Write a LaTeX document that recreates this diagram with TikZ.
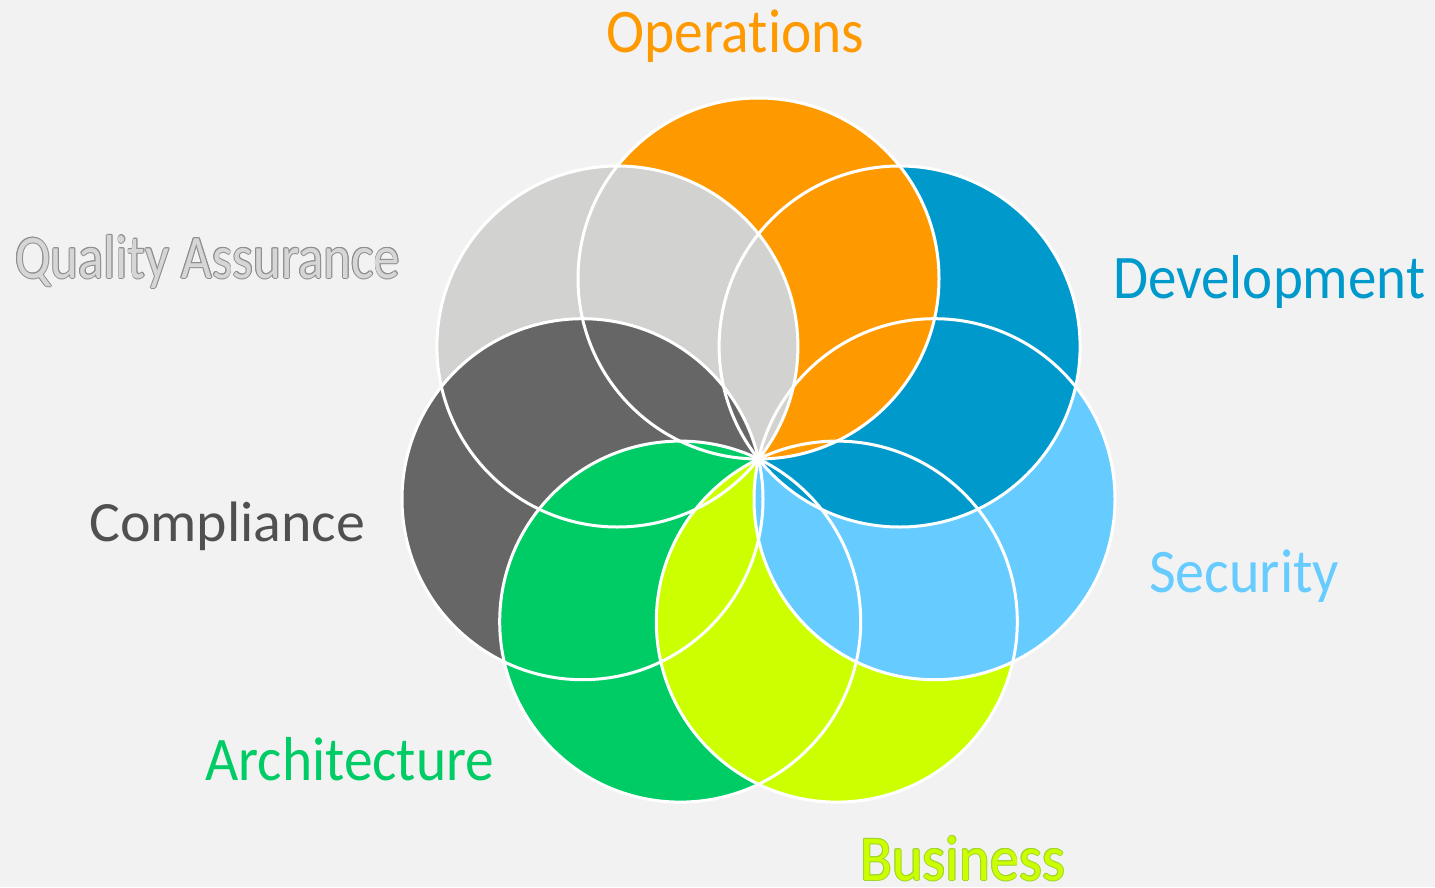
\documentclass[tikz,border=0pt]{standalone}
\usepackage{fontspec}
\setmainfont{Carlito}[Ligatures=NoCommon]
\usepackage{graphicx}

\definecolor{bgcol}{HTML}{F2F2F2}
\definecolor{opscol}{HTML}{FF9900}
\definecolor{devcol}{HTML}{0099CC}
\definecolor{seccol}{HTML}{66CCFF}
\definecolor{buscol}{HTML}{CCFF00}
\definecolor{busline}{HTML}{9ED62A}
\definecolor{arccol}{HTML}{00CC66}
\definecolor{comcol}{HTML}{666666}
\definecolor{comtext}{HTML}{505050}
\definecolor{qacol}{HTML}{D2D2D0}
\definecolor{qatext}{HTML}{D6D6D6}
\definecolor{qaline}{HTML}{8E8E8E}

% stretch a label to a given width, keep its height
\newcommand{\fitlabel}[2]{\resizebox{#1}{\height}{#2}}
% text with a coloured rim
\newcommand{\ringtext}[3]{%
  \makebox[0pt][l]{\color{#1}\kern-1pt#3}%
  \makebox[0pt][l]{\color{#1}\kern1pt#3}%
  \makebox[0pt][l]{\color{#1}\raisebox{1pt}{#3}}%
  \makebox[0pt][l]{\color{#1}\raisebox{-1pt}{#3}}%
  \makebox[0pt][l]{\color{#1}\kern-.7pt\raisebox{.7pt}{#3}}%
  \makebox[0pt][l]{\color{#1}\kern.7pt\raisebox{.7pt}{#3}}%
  \makebox[0pt][l]{\color{#1}\kern-.7pt\raisebox{-.7pt}{#3}}%
  \makebox[0pt][l]{\color{#1}\kern.7pt\raisebox{-.7pt}{#3}}%
  {\color{#2}#3}}

\begin{document}
\begin{tikzpicture}[x=1pt, y=-1pt,
		rim/.style={draw=white, line width=3pt},
		lbl/.style={inner sep=0pt, anchor=base west}]
		\fill[bgcol] (0,0) rectangle (1435,887);
		\useasboundingbox (0,0) rectangle (1435,887);
		% centres, all on one ring round (758.5,459)
		\coordinate (ops) at (758.5,278.5);
		\coordinate (dev) at (899.6,346.5);
		\coordinate (sec) at (934.5,499.2);
		\coordinate (bus) at (836.8,621.6);
		\coordinate (arc) at (680.2,621.6);
		\coordinate (com) at (582.5,499.2);
		\coordinate (qa) at (617.4,346.5);
		% each circle lies over its clockwise neighbour
		\fill[qacol] (qa) circle[radius=180.5];
		\fill[comcol] (com) circle[radius=180.5];
		\fill[arccol] (arc) circle[radius=180.5];
		\fill[buscol] (bus) circle[radius=180.5];
		\fill[seccol] (sec) circle[radius=180.5];
		\fill[devcol] (dev) circle[radius=180.5];
		\fill[opscol] (ops) circle[radius=180.5];
		% close the ring: grey over orange
		\begin{scope}
			\clip (ops) circle[radius=180.5];
			\fill[qacol] (qa) circle[radius=180.5];
			\fill[comcol] (com) circle[radius=180.5];
			\fill[arccol] (arc) circle[radius=180.5];
		\end{scope}
		\foreach \c in {ops,dev,sec,bus,arc,com,qa}
			\draw[rim] (\c) circle[radius=180.5];
		% labels
		\node[lbl, text=opscol] (opslabel) at (606,52) {\fitlabel{258pt}{\fontsize{62}{62}\selectfont Operations}};
		\node[lbl, text=devcol] (devlabel) at (1113,298) {\fitlabel{312pt}{\fontsize{62}{62}\selectfont Development}};
		\node[lbl, text=seccol] (seclabel) at (1149,592) {\fitlabel{190pt}{\fontsize{62}{62}\selectfont Security}};
		\node[lbl] (buslabel) at (860,880) {\fitlabel{205pt}{\fontsize{64}{64}\selectfont\ringtext{busline}{buscol}{Business}}};
		\node[lbl, text=arccol] (arclabel) at (205,780) {\fitlabel{289pt}{\fontsize{62}{62}\selectfont Architecture}};
		\node[lbl, text=comtext] (comlabel) at (89,541) {\fitlabel{276pt}{\fontsize{57}{57}\selectfont Compliance}};
		\node[lbl] (qalabel) at (15,278) {\fitlabel{385pt}{\fontsize{62}{62}\selectfont\ringtext{qaline}{qatext}{Quality Assurance}}};
\end{tikzpicture}
\end{document}
